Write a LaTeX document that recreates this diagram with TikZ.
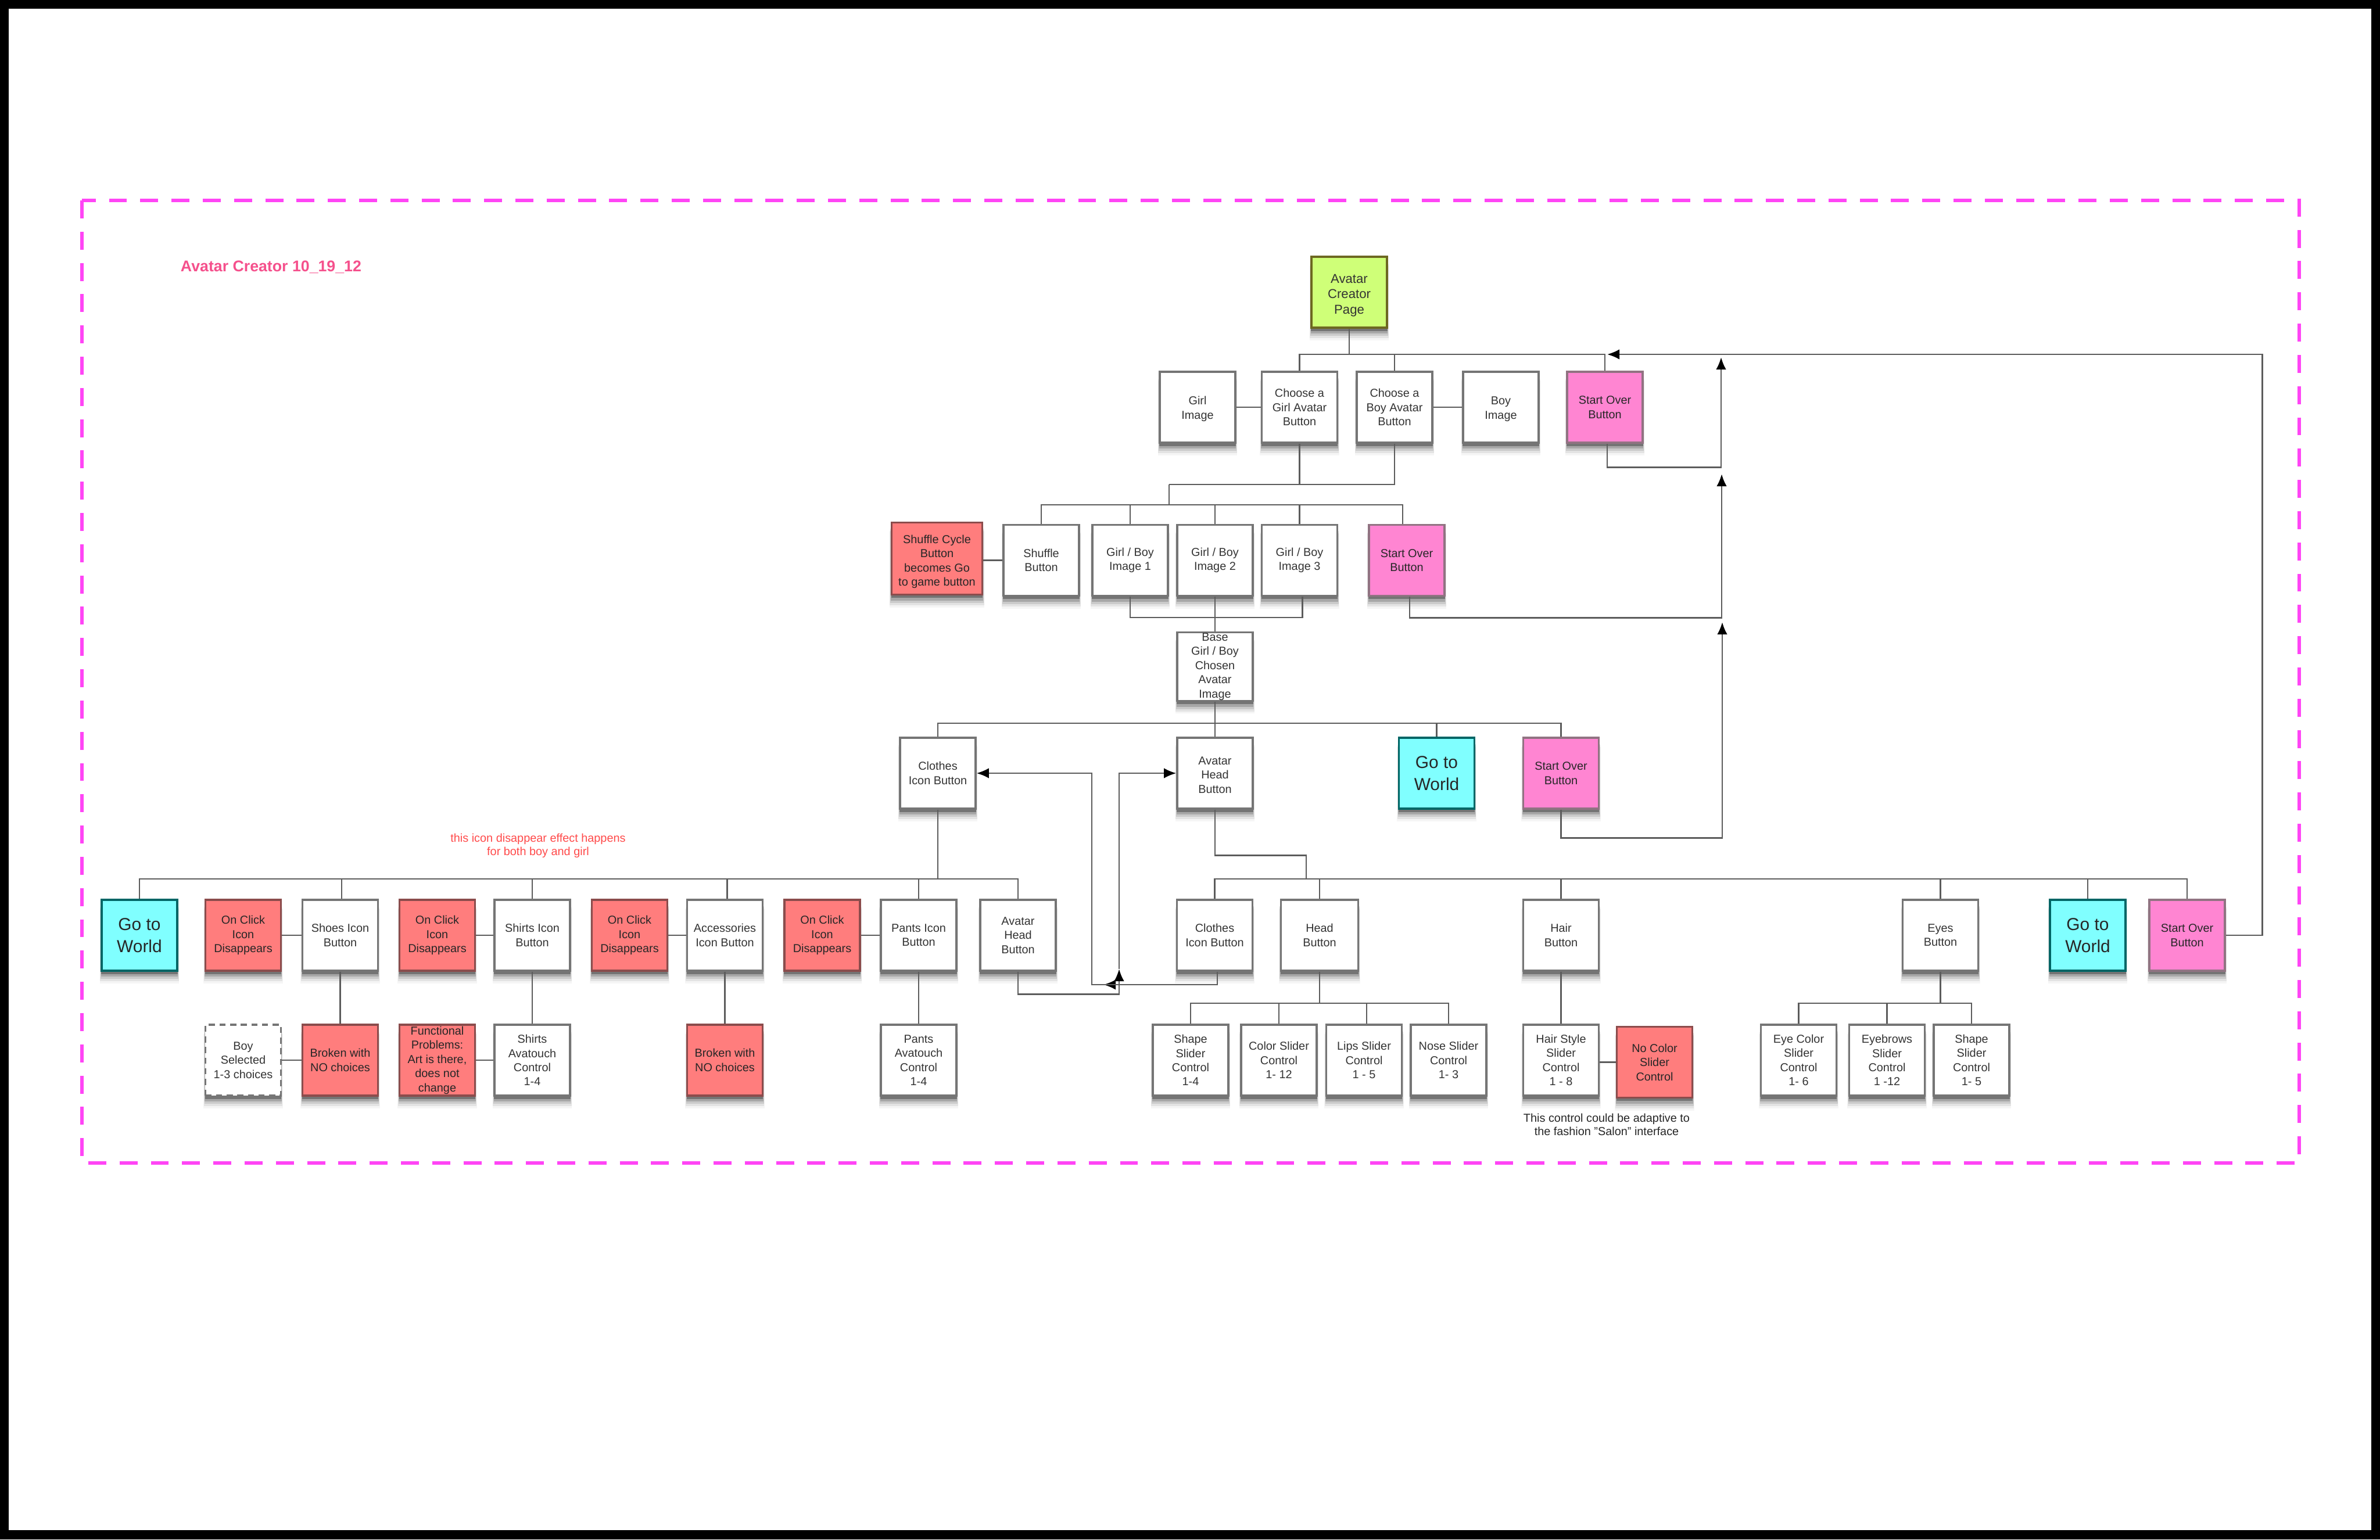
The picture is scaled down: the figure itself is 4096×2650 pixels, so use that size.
\documentclass[tikz,border=0pt]{standalone}
\usepackage{fontspec}
\setmainfont{Liberation Sans}
\usetikzlibrary{arrows.meta,shadows}

\definecolor{edgegray}{HTML}{757575}
\definecolor{linegray}{HTML}{5C5C5C}
\definecolor{inkgray}{HTML}{333333}
\definecolor{framepink}{HTML}{FF45F5}
\definecolor{titlepink}{HTML}{F5508C}
\definecolor{notered}{HTML}{FF4A4A}
\definecolor{limefill}{HTML}{CFFF78}
\definecolor{redfill}{HTML}{FF7D7D}
\definecolor{pinkfill}{HTML}{FF85D2}
\definecolor{cyanfill}{HTML}{80FFFF}

\begin{document}
\begin{tikzpicture}[x=0.01cm,y=-0.01cm,>={Latex[length=6pt,width=5pt,color=black]}]

	\tikzstyle{box}=[draw=edgegray,fill=white,rectangle,line width=.95pt,text=inkgray,align=center,inner sep=0pt,minimum width=1.30cm,minimum height=1.22cm,font=\fontsize{5.65}{6.95}\selectfont,
		drop shadow={shadow xshift=0pt,shadow yshift=-.18cm,shadow scale=1.05,opacity=.04,fill=black},
		drop shadow={shadow xshift=0pt,shadow yshift=-.15cm,shadow scale=1.04,opacity=.07,fill=black},
		drop shadow={shadow xshift=0pt,shadow yshift=-.12cm,shadow scale=1.03,opacity=.11,fill=black},
		drop shadow={shadow xshift=0pt,shadow yshift=-.09cm,shadow scale=1.02,opacity=.17,fill=black},
		drop shadow={shadow xshift=0pt,shadow yshift=-.05cm,shadow scale=1.01,opacity=.3,fill=black}]
	\tikzstyle{redbox}=[box,fill=redfill,draw=red!35!black!70,text=black!85]
	\tikzstyle{overbox}=[box,fill=pinkfill,draw=magenta!30!black!70,text=black!85]
	\tikzstyle{worldbox}=[box,fill=cyanfill,draw=teal!80!black,text=black!85,font=\fontsize{8.5}{10.8}\selectfont]
	\tikzstyle{pagebox}=[box,fill=limefill,draw=olive!70!black,text=black!80,font=\fontsize{6.3}{7.5}\selectfont]
	\tikzstyle{link}=[draw=linegray,line width=.75pt]
	\tikzstyle{note}=[align=center,inner sep=0pt,font=\fontsize{5.65}{6.6}\selectfont]

	% sheet
	\fill[black] (0,0) rectangle (4096,2650);
	\fill[white] (15,15) rectangle (4081,2634);
	\draw[framepink,line width=1.7pt,dash pattern=on 8.8pt off 6.5pt] (141,345) rectangle (3957,2002);
	\node[inner sep=0pt,text=titlepink,font=\fontsize{7.6}{9}\selectfont\bfseries] (title) at (466.5,460) {Avatar Creator 10\_19\_12};

	\node[pagebox] (page) at (2322,503) {\rule{0pt}{7.4pt}Avatar\\Creator\\Page};

	\node[box] (girlImage) at (2061,701) {\rule{0pt}{5.6pt}Girl\\Image};
	\node[box] (chooseGirl) at (2236.5,701) {Choose a\\Girl Avatar\\Button};
	\node[box] (chooseBoy) at (2400,701) {Choose a\\Boy Avatar\\Button};
	\node[box] (boyImage) at (2583,701) {\rule{0pt}{5.6pt}Boy\\Image};
	\node[overbox] (overA) at (2762,701) {Start Over\\Button};

	\node[redbox,minimum width=1.56cm,minimum height=1.24cm] (shuffleCycle) at (1612.5,961.5) {\rule{0pt}{7.2pt}Shuffle Cycle\\Button\\becomes Go\\to game button};
	\node[box] (shuffle) at (1792,964.5) {Shuffle\\Button};
	\node[box] (imageA) at (1945,964.5) {Girl / Boy\\Image 1};
	\node[box] (imageB) at (2091,964.5) {Girl / Boy\\Image 2};
	\node[box] (imageC) at (2236.5,964.5) {Girl / Boy\\Image 3};
	\node[overbox] (overB) at (2421,964.5) {Start Over\\Button};

	\node[box,minimum height=1.18cm] (base) at (2091,1147.5) {Base\\Girl / Boy\\Chosen\\Avatar\\Image};

	\node[box] (clothesIcon) at (1614,1331) {Clothes\\Icon Button};
	\node[box] (avatarHead) at (2091,1331) {\rule{0pt}{5.6pt}Avatar\\Head\\Button};
	\node[worldbox] (worldA) at (2472.5,1331) {Go to\\World};
	\node[overbox] (overC) at (2686.5,1331) {Start Over\\Button};

	% clothes branch
	\node[worldbox] (worldB) at (240,1610) {Go to\\World};
	\node[redbox] (clickA) at (418.5,1610) {On Click\\Icon\\Disappears};
	\node[box] (shoes) at (585.5,1610) {Shoes Icon\\Button};
	\node[redbox] (clickB) at (752.5,1610) {On Click\\Icon\\Disappears};
	\node[box] (shirts) at (916,1610) {Shirts Icon\\Button};
	\node[redbox] (clickC) at (1083.5,1610) {On Click\\Icon\\Disappears};
	\node[box] (accessories) at (1247.5,1610) {Accessories\\Icon Button};
	\node[redbox] (clickD) at (1415,1610) {On Click\\Icon\\Disappears};
	\node[box] (pants) at (1581,1610) {Pants Icon\\Button};
	\node[box] (headBack) at (1752,1610) {Avatar\\Head\\Button};

	\node[box,dashed,dash pattern=on 3pt off 2.2pt] (boySelected) at (418.5,1825) {Boy\\Selected\\1-3 choices};
	\node[redbox] (brokenA) at (585.5,1825) {Broken with\\NO choices};
	\node[redbox] (problems) at (752.5,1825) {Functional\\Problems:\\Art is there,\\does not\\change};
	\node[box] (shirtsTouch) at (916,1825) {Shirts\\Avatouch\\Control\\1-4};
	\node[redbox] (brokenB) at (1247.5,1825) {Broken with\\NO choices};
	\node[box] (pantsTouch) at (1581,1825) {Pants\\Avatouch\\Control\\1-4};

	% head branch
	\node[box] (clothesBack) at (2090.5,1610) {Clothes\\Icon Button};
	\node[box,minimum width=1.33cm] (headBtn) at (2271,1610) {Head\\Button};
	\node[box] (hair) at (2686.5,1610) {Hair\\Button};
	\node[box] (eyes) at (3339.5,1610) {Eyes\\Button};
	\node[worldbox] (worldC) at (3593,1610) {Go to\\World};
	\node[overbox] (overD) at (3764,1610) {Start Over\\Button};

	\node[box] (shapeHead) at (2049,1825) {Shape\\Slider\\Control\\1-4};
	\node[box] (colorHead) at (2201,1825) {Color Slider\\Control\\1- 12};
	\node[box] (lips) at (2347.5,1825) {Lips Slider\\Control\\1 - 5};
	\node[box] (nose) at (2493,1825) {Nose Slider\\Control\\1- 3};
	\node[box] (hairStyle) at (2686.5,1825) {Hair Style\\Slider\\Control\\1 - 8};
	\node[redbox] (noColor) at (2847.5,1828.5) {No Color\\Slider\\Control};
	\node[box] (eyeColor) at (3095.5,1825) {Eye Color\\Slider\\Control\\1- 6};
	\node[box] (eyebrows) at (3247.5,1825) {Eyebrows\\Slider\\Control\\1 -12};
	\node[box] (shapeEyes) at (3393,1825) {Shape\\Slider\\Control\\1- 5};

	\node[note,text=notered] (iconNote) at (926,1456) {this icon disappear effect happens\\for both boy and girl};
	\node[note,text=black!85] (salonNote) at (2765,1936) {This control could be adaptive to\\the fashion "Salon" interface};

	% junction points of the trees
	\coordinate (busA) at (2322,610);
	\coordinate (merge) at (2012,834);
	\coordinate (busB) at (2012,869);
	\coordinate (imageJoin) at (2091,1063);
	\coordinate (busC) at (2091,1245);
	\coordinate (busLeft) at (1614,1513);
	\coordinate (busRight) at (2248,1513);
	\coordinate (busHead) at (2271,1727);
	\coordinate (busEyes) at (3339.5,1727);

	\draw[link] (page.south) |- (busA);
	\draw[link] (chooseGirl.north) |- (busA);
	\draw[link] (chooseBoy.north) |- (busA);
	\draw[link] (overA.north) |- (busA);
	\draw[link] (girlImage.east) -- (chooseGirl.west);
	\draw[link] (chooseBoy.east) -- (boyImage.west);

	\draw[link] (chooseGirl.south) |- (merge);
	\draw[link] (chooseBoy.south) |- (merge);
	\draw[link] (merge) -- (busB);
	\draw[link] (shuffle.north) |- (busB);
	\draw[link] (imageA.north) |- (busB);
	\draw[link] (imageB.north) |- (busB);
	\draw[link] (imageC.north) |- (busB);
	\draw[link] ([xshift=-.07cm]overB.north) |- (busB);
	\draw[link] (shuffleCycle.east |- shuffle.east) -- (shuffle.west);

	\draw[link] (imageA.south) |- (imageJoin);
	\draw[link] ([xshift=.05cm]imageC.south) |- (imageJoin);
	\draw[link] (imageB.south) -- (base.north);

	\draw[link] (base.south) -- (avatarHead.north);
	\draw[link] (clothesIcon.north) |- (busC);
	\draw[link] (worldA.north) |- (busC);
	\draw[link] (overC.north) |- (busC);

	\draw[link] (clothesIcon.south) -- (busLeft);
	\draw[link] (worldB.north) |- (busLeft);
	\draw[link] ([xshift=.025cm]shoes.north) |- (busLeft);
	\draw[link] (shirts.north) |- (busLeft);
	\draw[link] ([xshift=.04cm]accessories.north) |- (busLeft);
	\draw[link] (pants.north) |- (busLeft);
	\draw[link] (headBack.north) |- (busLeft);
	\draw[link] (clickA.east) -- (shoes.west);
	\draw[link] (clickB.east) -- (shirts.west);
	\draw[link] (clickC.east) -- (accessories.west);
	\draw[link] (clickD.east) -- (pants.west);
	\draw[link] (shoes.south) -- (brokenA.north);
	\draw[link] (shirts.south) -- (shirtsTouch.north);
	\draw[link] (accessories.south) -- (brokenB.north);
	\draw[link] (pants.south) -- (pantsTouch.north);
	\draw[link] (boySelected.east) -- (brokenA.west);
	\draw[link] (problems.east) -- (shirtsTouch.west);

	\draw[link] (avatarHead.south) -- ++(0,79) -| (busRight);
	\draw[link] (clothesBack.north) |- (busRight);
	\draw[link] (headBtn.north) |- (busRight);
	\draw[link] (hair.north) |- (busRight);
	\draw[link] (eyes.north) |- (busRight);
	\draw[link] (worldC.north) |- (busRight);
	\draw[link] (overD.north) |- (busRight);

	\draw[link] (headBtn.south) -- (busHead);
	\draw[link] (shapeHead.north) |- (busHead);
	\draw[link] (colorHead.north) |- (busHead);
	\draw[link] ([xshift=.045cm]lips.north) |- (busHead);
	\draw[link] (nose.north) |- (busHead);
	\draw[link] (hair.south) -- (hairStyle.north);
	\draw[link] (hairStyle.east |- noColor.west) -- (noColor.west);
	\draw[link] (eyes.south) -- (busEyes);
	\draw[link] (eyeColor.north) |- (busEyes);
	\draw[link] (eyebrows.north) |- (busEyes);
	\draw[link] (shapeEyes.north) |- (busEyes);

	% start over returns
	\coordinate (tipA) at (2962,615);
	\coordinate (tipB) at (2963,816);
	\coordinate (tipC) at (2964,1071);
	\coordinate (tipD) at (2766,610);
	\draw[link,->] ([xshift=.04cm]overA.south) -- ++(0,41) -| (tipA);
	\draw[link,->] ([xshift=.05cm]overB.south) -- ++(0,36) -| (tipB);
	\draw[link,->] (overC.south) -- ++(0,49) -| (tipC);
	\draw[link,->] (overD.east) -- ++(63,0) |- (tipD);

	% back to the icon buttons
	\coordinate (tipClothes) at (1899,1695);
	\coordinate (backClothes) at (1961,1695);
	\coordinate (tipHead) at (1926,1668);
	\draw[link,->] ([xshift=.045cm]clothesBack.south) |- (tipClothes);
	\draw[link,->] (backClothes) -- ++(-82,0) |- (clothesIcon.east);
	\draw[link,->] (headBack.south) -- ++(0,39) -| (tipHead);
	\draw[link,->] (tipHead) |- (avatarHead.west);

\end{tikzpicture}
\end{document}
